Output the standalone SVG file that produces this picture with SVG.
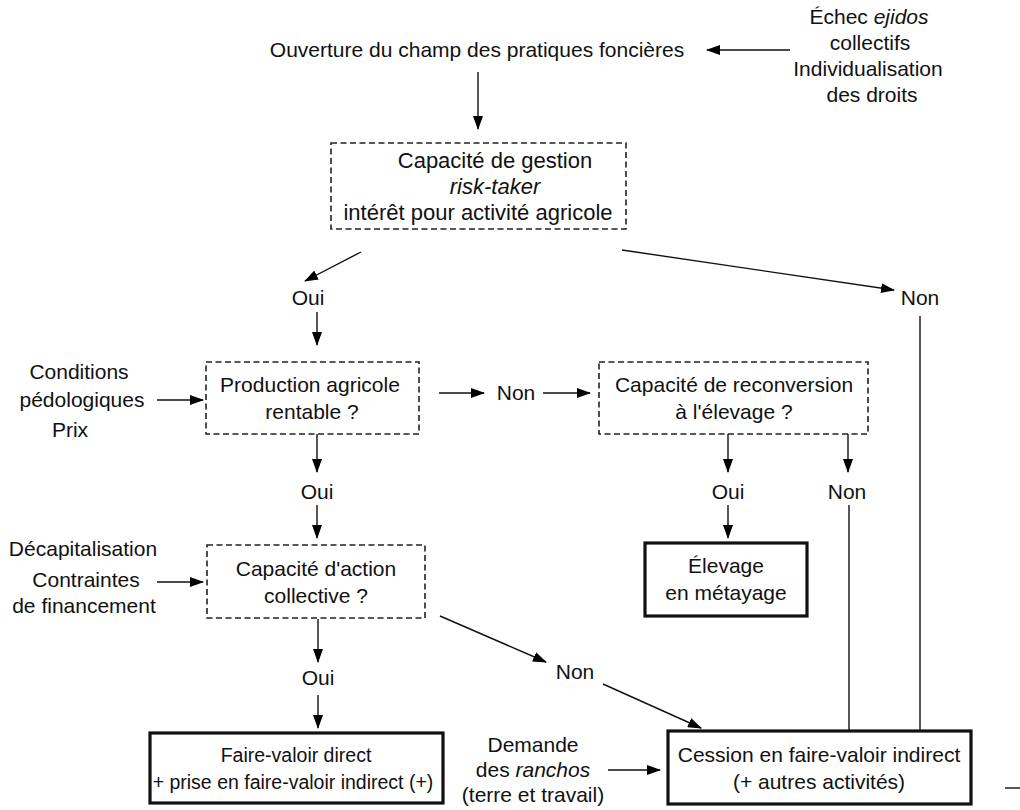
<svg xmlns="http://www.w3.org/2000/svg" width="1020" height="810" viewBox="0 0 1020 810">
<defs>
<marker id="ah" markerUnits="userSpaceOnUse" markerWidth="14" markerHeight="10" refX="13" refY="5" orient="auto">
<path d="M0,0 L14,5 L0,10 Z" fill="#000"/>
</marker>
<style>
text{font-family:"Liberation Sans",Arial,sans-serif;font-size:21px;fill:#111;text-anchor:middle}
.dash{fill:#fff;stroke:#222;stroke-width:1.6;stroke-dasharray:6 3.5}
.solid{fill:#fff;stroke:#111;stroke-width:3.2}
.c{stroke:#111;stroke-width:1.4;fill:none}
.a{stroke:#111;stroke-width:1.4;fill:none;marker-end:url(#ah)}
.i{font-style:italic}
.b1{font-size:22px}
</style>
</defs>
<rect width="1020" height="810" fill="#fff"/>

<g id="connectors">
<line class="a" x1="790" y1="50" x2="707" y2="50"/>
<line class="a" x1="478" y1="72" x2="478" y2="129"/>
<line class="a" x1="361" y1="252" x2="305" y2="281"/>
<line class="a" x1="622" y1="250" x2="894" y2="290"/>
<line class="a" x1="317" y1="312" x2="317" y2="345"/>
<line class="a" x1="920" y1="316" x2="920" y2="774"/>
<line class="a" x1="157" y1="400" x2="203" y2="400"/>
<line class="a" x1="439" y1="393" x2="484" y2="393"/>
<line class="a" x1="543" y1="393" x2="590" y2="393"/>
<line class="a" x1="317" y1="434" x2="317" y2="472"/>
<line class="a" x1="317" y1="505" x2="317" y2="538"/>
<line class="a" x1="728" y1="434" x2="728" y2="472"/>
<line class="a" x1="848" y1="434" x2="848" y2="472"/>
<line class="a" x1="728" y1="505" x2="728" y2="538"/>
<line class="a" x1="849" y1="505" x2="849" y2="774"/>
<line class="a" x1="157" y1="582" x2="203" y2="582"/>
<line class="a" x1="318" y1="619" x2="318" y2="662"/>
<line class="a" x1="318" y1="695" x2="318" y2="728"/>
<line class="a" x1="440" y1="616" x2="546" y2="662"/>
<line class="a" x1="603" y1="684" x2="701" y2="728"/>
<line class="a" x1="608" y1="770" x2="660" y2="770"/>
<line class="c" x1="1005" y1="788" x2="1020" y2="788"/>
</g>

<g id="top">
<text x="477" y="57">Ouverture du champ des pratiques foncières</text>
</g>
<g id="ejidos">
<text x="869" y="24">Échec <tspan class="i">ejidos</tspan></text>
<text x="870" y="50">collectifs</text>
<text x="868" y="76">Individualisation</text>
<text x="872" y="102">des droits</text>
</g>

<g id="gestion">
<rect class="dash" x="331" y="143" width="295" height="86"/>
<text x="495" y="168" class="b1">Capacité de gestion</text>
<text x="495" y="194" class="b1 i">risk-taker</text>
<text x="478" y="220" class="b1">intérêt pour activité agricole</text>
</g>

<g id="oui1"><text x="308" y="305">Oui</text></g>
<g id="non1"><text x="920" y="305">Non</text></g>

<g id="conditions">
<text x="79" y="379">Conditions</text>
<text x="82" y="407">pédologiques</text>
<text x="70" y="437">Prix</text>
</g>

<g id="production">
<rect class="dash" x="206" y="362" width="213" height="72"/>
<text x="310" y="392">Production agricole</text>
<text x="312" y="419">rentable ?</text>
</g>

<g id="non2"><text x="516" y="400">Non</text></g>

<g id="reconversion">
<rect class="dash" x="599" y="362" width="269" height="72"/>
<text x="734" y="392">Capacité de reconversion</text>
<text x="734" y="419">à l'élevage ?</text>
</g>

<g id="oui2"><text x="317" y="499">Oui</text></g>
<g id="oui3"><text x="728" y="499">Oui</text></g>
<g id="non3"><text x="847" y="499">Non</text></g>

<g id="elevage">
<rect class="solid" x="645" y="543" width="162" height="73"/>
<text x="726" y="573">Élevage</text>
<text x="726" y="600">en métayage</text>
</g>

<g id="decap">
<text x="83" y="556">Décapitalisation</text>
<text x="86" y="587">Contraintes</text>
<text x="84" y="613">de financement</text>
</g>

<g id="action">
<rect class="dash" x="207" y="545" width="218" height="73"/>
<text x="316" y="576">Capacité d'action</text>
<text x="316" y="603">collective ?</text>
</g>

<g id="oui4"><text x="318" y="685">Oui</text></g>
<g id="non4"><text x="575" y="679">Non</text></g>

<g id="direct">
<rect class="solid" x="150" y="733" width="293" height="70"/>
<text x="296" y="762" style="font-size:19.5px">Faire-valoir direct</text>
<text x="293" y="789" style="font-size:19.5px">+ prise en faire-valoir indirect (+)</text>
</g>

<g id="demande">
<text x="533" y="752">Demande</text>
<text x="533" y="777">des <tspan class="i">ranchos</tspan></text>
<text x="533" y="802">(terre et travail)</text>
</g>

<g id="cession">
<rect class="solid" x="668" y="731" width="303" height="73"/>
<text x="819" y="762">Cession en faire-valoir indirect</text>
<text x="819" y="789">(+ autres activités)</text>
</g>
</svg>
